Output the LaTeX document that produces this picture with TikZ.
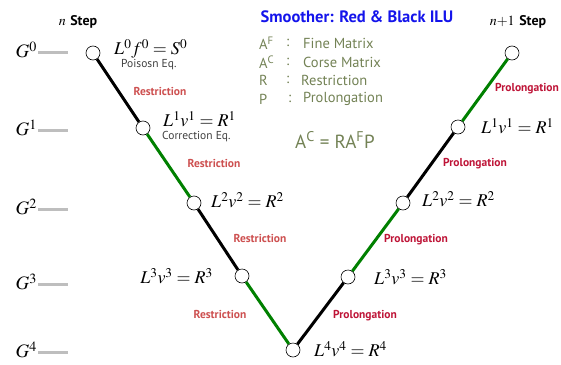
\documentclass[tikz,border=0pt]{standalone}
\usepackage{mathptmx}
\usepackage{fontspec}
\setsansfont{PT Sans}
\definecolor{restr}{RGB}{205,80,80}
\definecolor{prolong}{RGB}{190,20,55}
\definecolor{vgreen}{RGB}{0,128,0}
\definecolor{legend}{RGB}{115,130,85}
\definecolor{smblue}{RGB}{20,20,235}
\definecolor{lvlgray}{RGB}{190,190,190}
\tikzset{
  grid pt/.style={circle, draw=black, fill=white, line width=0.6pt, minimum size=14pt, inner sep=0pt},
  edgeblack/.style={line width=3pt, black},
  edgegreen/.style={line width=3pt, vgreen},
  eqn/.style={inner sep=0pt, font=\fontsize{18}{20}\selectfont},
  sublabel/.style={inner sep=0pt, font=\sffamily\fontsize{11.5}{12}\selectfont, text=black!75},
  rlabel/.style={inner sep=0pt, font=\sffamily\bfseries\fontsize{11.5}{12}\selectfont, text=restr},
  plabel/.style={inner sep=0pt, font=\sffamily\bfseries\fontsize{11.5}{12}\selectfont, text=prolong},
  glabel/.style={inner sep=0pt, font=\fontsize{19}{20}\selectfont, anchor=east},
  lvlline/.style={line width=3pt, lvlgray},
  steplabel/.style={inner sep=0pt, font=\fontsize{14}{16}\selectfont},
  legendtxt/.style={inner sep=0pt, anchor=west, font=\sffamily\fontsize{14.5}{16}\selectfont, text=legend}
}
\begin{document}
\begin{tikzpicture}[x=1pt,y=-1pt]
\useasboundingbox (0,0) rectangle (561,364);
% level lines
\foreach \k/\y in {0/52,1/130,2/209,3/284,4/352}{
  \coordinate (ls\k) at (38,\y);
  \coordinate (le\k) at (68,\y);
  \draw[lvlline] (ls\k) -- (le\k);
  \node[glabel] (g\k) at (37,\y-2) {$G^{\k}$};
}
% step labels
\node[steplabel] (nstep) at (78,22) {$n$ \sffamily\bfseries Step};
\node[steplabel] (n1step) at (518,22) {$n{+}1$ \sffamily\bfseries Step};
% V-cycle nodes
\node[grid pt] (a0) at (93,53) {};
\node[grid pt] (a1) at (143,128) {};
\node[grid pt] (a2) at (194,203) {};
\node[grid pt] (a3) at (242,276) {};
\node[grid pt] (a4) at (293,350) {};
\node[grid pt] (b3) at (348,277) {};
\node[grid pt] (b2) at (403,203) {};
\node[grid pt] (b1) at (458,127) {};
\node[grid pt] (b0) at (512,53) {};
% edges
\draw[edgeblack] (a0) -- (a1);
\draw[edgegreen] (a1) -- (a2);
\draw[edgeblack] (a2) -- (a3);
\draw[edgegreen] (a3) -- (a4);
\draw[edgeblack] (a4) -- (b3);
\draw[edgegreen] (b3) -- (b2);
\draw[edgeblack] (b2) -- (b1);
\draw[edgegreen] (b1) -- (b0);
% equations
\node[eqn, anchor=west] (e0) at (114,49) {$L^0 f^0 = S^0$};
\node[sublabel, anchor=west] (e0s) at (121,65) {Poisosn Eq.};
\node[eqn, anchor=west] (e1) at (163,119) {$L^1v^1 = R^1$};
\node[sublabel, anchor=west] (e1s) at (162,137) {Correction Eq.};
\node[eqn, anchor=west] (e2) at (211,200) {$L^2v^2 = R^2$};
\node[eqn, anchor=east] (e3) at (213,276) {$L^3v^3 = R^3$};
\node[eqn, anchor=west] (e4) at (314,349) {$L^4v^4 = R^4$};
\node[eqn, anchor=west] (f3) at (374,277) {$L^3v^3 = R^3$};
\node[eqn, anchor=west] (f2) at (422,199) {$L^2v^2 = R^2$};
\node[eqn, anchor=west] (f1) at (481,126) {$L^1v^1 = R^1$};
% restriction / prolongation labels
\node[rlabel] (r1) at (160,91) {Restriction};
\node[rlabel] (r2) at (214,163) {Restriction};
\node[rlabel] (r3) at (260,238) {Restriction};
\node[rlabel] (r4) at (220,314) {Restriction};
\node[plabel] (p1) at (365,316) {Prolongation};
\node[plabel] (p2) at (416,240) {Prolongation};
\node[plabel] (p3) at (475,164) {Prolongation};
\node[plabel] (p4) at (527,89) {Prolongation};
% smoother title
\node[inner sep=0pt, font=\sffamily\bfseries\fontsize{16.5}{18}\selectfont, text=smblue] (smooth) at (357,17) {Smoother: Red \& Black ILU};
% legend
\node[legendtxt] (l1a) at (259,43) {A\textsuperscript{F}};
\node[legendtxt] (l1b) at (286,43) {:};
\node[legendtxt] (l1c) at (303,43) {Fine Matrix};
\node[legendtxt] (l2a) at (259,62) {A\textsuperscript{C}};
\node[legendtxt] (l2b) at (286,62) {:};
\node[legendtxt] (l2c) at (303,62) {Corse Matrix};
\node[legendtxt] (l3a) at (259,80) {R};
\node[legendtxt] (l3b) at (286,80) {:};
\node[legendtxt] (l3c) at (301,80) {Restriction};
\node[legendtxt] (l4a) at (259,99) {P};
\node[legendtxt] (l4b) at (288,99) {:};
\node[legendtxt] (l4c) at (303,99) {Prolongation};
\node[inner sep=0pt, font=\sffamily\fontsize{19}{21}\selectfont, text=legend] (formula) at (335,140) {A\textsuperscript{C} = RA\textsuperscript{F}P};
\end{tikzpicture}
\end{document}
